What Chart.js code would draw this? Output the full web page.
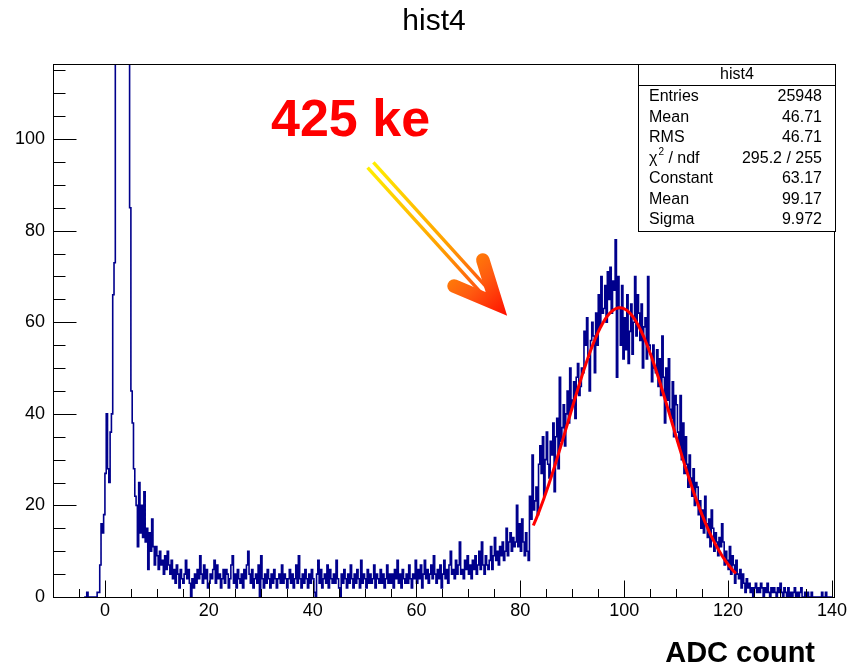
<!DOCTYPE html>
<html>
<head>
<meta charset="utf-8">
<title>hist4</title>
<script src="https://cdn.jsdelivr.net/npm/chart.js@4.4.0/dist/chart.umd.min.js"></script>
<style>
  html, body { margin: 0; padding: 0; background: #fff; }
</style>
</head>
<body>
<canvas id="hist" width="852" height="665"></canvas>
<script>
// ADC spectrum, bins of 0.25 counts, split into ranges
const binWidth = 0.25;

// -4 .. 10 : pedestal (clipped at the top of the frame)
const pedestalCounts = [
  0, 0, 1, 0,   0, 0, 0, 0,   0, 0, 1, 1,   7, 16, 14, 18,
  27, 40, 28, 25,   36, 40, 66, 73,   240, 470, 720, 910,
  980, 930, 800, 610,   420, 280, 170, 85,   45, 38, 28, 22,
  20, 11, 25, 14,   20, 13, 23, 12,   15, 6, 14, 10,   17, 11, 7, 11
];

// 10 .. 35
const plateauLowCounts = [
  9, 6, 10, 7,   8, 5, 9, 6,   10, 7, 5, 8,   4, 6, 3, 7,   5, 2, 6, 4,
  3, 5, 8, 4,   6, 3, 0, 4,   2, 5, 3, 6,   4, 9, 5, 3,   7, 4, 6, 2,
  3, 5, 4, 6,   8, 3, 7, 4,   5, 2, 4, 6,   3, 6, 5, 2,   4, 7, 9, 3,
  5, 2, 6, 4,   3, 5, 2, 6,   4, 7, 10, 5,   3, 6, 2, 4,   5, 3, 7, 0,
  9, 4, 2, 5,   3, 6, 4, 2,   5, 3, 6, 4,   2, 4, 5, 3,   7, 3, 5, 4
];

// 35 .. 60
const plateauHighCounts = [
  2, 4, 6, 3,   5, 2, 4, 7,   3, 9, 4, 2,   5, 3, 6, 4,   2, 5, 3, 6,
  4, 1, 0, 5,   8, 3, 6, 2,   4, 5, 3, 7,   2, 6, 4, 3,   5, 3, 8, 4,
  2, 0, 5, 3,   6, 4, 2, 5,   3, 7, 4, 2,   5, 3, 6, 4,   2, 8, 3, 5,
  4, 2, 6, 3,   5, 3, 4, 7,   2, 5, 4, 3,   6, 3, 5, 2,   4, 7, 3, 5,
  3, 5, 2, 6,   4, 8, 3, 5,   2, 6, 4, 3,   5, 3, 7, 4,   2, 5, 4, 8
];

// 60 .. 82 : onset of the signal
const riseCounts = [
  3, 6, 4, 7,   2, 5, 8, 4,   6, 3, 5, 7,   4, 9, 5, 3,   6, 4, 7, 2,
  5, 8, 4, 6,   3, 7, 10, 5,   6, 4, 8, 5,   7, 12, 5, 6,   4, 8, 6, 9,
  5, 7, 4, 8,   6, 9, 5, 7,   10, 6, 12, 7,   5, 9, 7, 6,   8, 11, 6, 9,
  13, 8, 10, 7,   11, 9, 12, 8,   10, 15, 9, 12,   14, 10, 13, 11,
  12, 20, 11, 16,   10, 17, 12, 9,   14, 10, 8, 22
];

// 82 .. 122 : signal peak
const signalCounts = [
  17, 31, 19, 21,   24, 18, 29, 33,   27, 35, 22, 30,   36, 29, 26, 34,
  31, 38, 23, 35,   39, 28, 48, 34,   37, 42, 33, 40,   45, 38, 50, 41,
  43, 47, 39, 48,   51, 44, 46, 50,   49, 58, 55, 61,   52, 45, 56, 60,
  57, 49, 62, 55,   66, 59, 70, 62,   63, 68, 60, 71,   65, 72, 62, 69,
  67, 78, 48, 70,   63, 55, 68, 52,   61, 54, 66, 51,   58, 64, 53, 60,
  70, 57, 66, 62,   56, 64, 50, 59,   61, 52, 70, 55,   53, 47, 55, 50,
  49, 54, 46, 52,   44, 57, 48, 38,   50, 43, 52, 41,   39, 47, 35, 44,
  42, 36, 33, 44,   30, 38, 27, 35,   29, 24, 31, 26,   22, 28, 20, 25,
  24, 18, 21, 15,   19, 14, 22, 16,   13, 17, 11, 19,   15, 10, 14, 12,
  9, 13, 11, 16,   12, 7, 10, 8,   6, 11, 5, 9,   7, 3, 8, 5
];

// 122 .. 140 : tail
const tailCounts = [
  4, 6, 2, 5,   3, 1, 4, 2,   3, 1, 2, 0,   2, 3, 1, 2,   1, 3, 2, 0,
  2, 1, 3, 1,   0, 2, 1, 2,   1, 0, 2, 1,   3, 1, 0, 2,   1, 0, 2, 0,
  1, 0, 1, 2,   0, 1, 0, 1,   2, 0, 0, 1,   0, 1, 0, 0,   1, 0, 0, 0,
  0, 0, 0, 0,   1, 0, 0, 1,   0, 0, 0, 0
];

const segments = [
  { start: -4, counts: pedestalCounts },
  { start: 10, counts: plateauLowCounts },
  { start: 35, counts: plateauHighCounts },
  { start: 60, counts: riseCounts },
  { start: 82, counts: signalCounts },
  { start: 122, counts: tailCounts }
];

// gaus fit result
const fitConstant = 63.17;
const fitMean = 99.17;
const fitSigma = 9.972;
const fitRange = [82.5, 121.5];

const xTickValues = [0, 20, 40, 60, 80, 100, 120, 140];
const yTickValues = [0, 20, 40, 60, 80, 100];

const statsEntries = 25948;
const statsMean = 46.71;
const statsRms = 46.71;
const statsChi2 = 295.2;
const statsNdf = 255;

// histogram outline points at the low edge of every bin
const histPoints = [];
segments.forEach(seg => {
    seg.counts.forEach((c, i) => histPoints.push({ x: seg.start + i * binWidth, y: c }));
});
histPoints.push({ x: 140, y: 0 });

const fitPoints = [];
for (let xv = fitRange[0]; xv <= fitRange[1] + 1e-9; xv += 0.25) {
    const z = (xv - fitMean) / fitSigma;
    fitPoints.push({ x: xv, y: fitConstant * Math.exp(-0.5 * z * z) });
}

const FONT = '"Liberation Sans", Arial, Helvetica, sans-serif';

function drawArrow(ctx, x0, y0, x1, y1) {
    const dx = x1 - x0, dy = y1 - y0;
    const len = Math.hypot(dx, dy);
    const ux = dx / len, uy = dy / len;
    const nx = -uy, ny = ux;

    const grad = ctx.createLinearGradient(x0, y0, x1, y1);
    grad.addColorStop(0, '#ffee00');
    grad.addColorStop(0.55, '#ff9d00');
    grad.addColorStop(0.8, '#ff5a10');
    grad.addColorStop(1, '#ff1000');

    ctx.save();
    ctx.strokeStyle = grad;

    // two parallel shaft lines
    const gap = 3.9;
    const shaftLen = len - 27;
    ctx.lineWidth = 3.4;
    ctx.lineCap = 'butt';
    [-1, 1].forEach(s => {
        ctx.beginPath();
        ctx.moveTo(x0 + nx * gap * s, y0 + ny * gap * s);
        ctx.lineTo(x0 + ux * shaftLen + nx * gap * s, y0 + uy * shaftLen + ny * gap * s);
        ctx.stroke();
    });

    // chevron head
    const vx = x1 - ux * 15, vy = y1 - uy * 15;
    const wing = 46, ang = 25 * Math.PI / 180;
    const bx = -ux * Math.cos(ang) * wing, by = -uy * Math.cos(ang) * wing;
    const sx = nx * Math.sin(ang) * wing, sy = ny * Math.sin(ang) * wing;
    ctx.lineWidth = 13.5;
    ctx.lineCap = 'round';
    ctx.lineJoin = 'miter';
    ctx.beginPath();
    ctx.moveTo(vx + bx + sx, vy + by + sy);
    ctx.lineTo(vx, vy);
    ctx.lineTo(vx + bx - sx, vy + by - sy);
    ctx.stroke();
    ctx.restore();
}

const rootStyle = {
    id: 'rootStyle',
    afterDraw(chart) {
        const { ctx, chartArea: a } = chart;
        const xs = chart.scales.x, ys = chart.scales.y;
        ctx.save();

        // frame
        ctx.strokeStyle = '#000';
        ctx.lineWidth = 1;
        const L = Math.round(a.left) + 0.5, R = Math.round(a.right) + 0.5;
        const T = Math.round(a.top) + 0.5, B = Math.round(a.bottom) + 0.5;
        ctx.strokeRect(L, T, R - L, B - T);

        // inward tick marks
        ctx.beginPath();
        for (let v = Math.ceil(xs.min / 5) * 5; v <= xs.max; v += 5) {
            const px = Math.round(xs.getPixelForValue(v)) + 0.5;
            const len = v % 20 === 0 ? 17 : 8.5;
            ctx.moveTo(px, B);
            ctx.lineTo(px, B - len);
        }
        for (let v = 0; v <= ys.max; v += 5) {
            const py = Math.round(ys.getPixelForValue(v)) + 0.5;
            const len = v % 20 === 0 ? 23 : 12;
            ctx.moveTo(L, py);
            ctx.lineTo(L + len, py);
        }
        ctx.stroke();

        // statistics box
        const bx = 638.5, by = 64.5, bw = 197, bh = 167;
        ctx.fillStyle = '#fff';
        ctx.fillRect(bx, by, bw, bh);
        ctx.strokeRect(bx, by, bw, bh);
        ctx.beginPath();
        ctx.moveTo(bx, 85.5);
        ctx.lineTo(bx + bw, 85.5);
        ctx.stroke();

        ctx.fillStyle = '#000';
        ctx.textBaseline = 'middle';
        ctx.font = '16px ' + FONT;
        ctx.textAlign = 'center';
        ctx.fillText('hist4', bx + bw / 2, 75);

        const rows = [
            ['Entries', String(statsEntries)],
            ['Mean', statsMean.toFixed(2)],
            ['RMS', statsRms.toFixed(2)],
            ['chi2', statsChi2.toFixed(1) + ' / ' + statsNdf],
            ['Constant', fitConstant.toFixed(2)],
            ['Mean', fitMean.toFixed(2)],
            ['Sigma', fitSigma.toFixed(3)]
        ];
        rows.forEach((r, i) => {
            const ry = 97 + i * 20.5;
            ctx.textAlign = 'left';
            if (r[0] === 'chi2') {
                ctx.font = '16px ' + FONT;
                ctx.fillText('\u03c7', 649, ry);
                const w = ctx.measureText('\u03c7').width;
                ctx.font = '10px ' + FONT;
                ctx.fillText('2', 649 + w + 1, ry - 6);
                const w2 = ctx.measureText('2').width;
                ctx.font = '16px ' + FONT;
                ctx.fillText(' / ndf', 649 + w + w2 + 1, ry);
            } else {
                ctx.fillText(r[0], 649, ry);
            }
            ctx.textAlign = 'right';
            ctx.fillText(r[1], 822, ry);
        });

        // pad title
        ctx.textAlign = 'center';
        ctx.textBaseline = 'alphabetic';
        ctx.font = '30px ' + FONT;
        ctx.fillText('hist4', 434, 30);

        // annotation
        ctx.fillStyle = '#ff0000';
        ctx.textAlign = 'left';
        ctx.font = 'bold 52px ' + FONT;
        ctx.fillText('425 ke', 271, 136);

        drawArrow(ctx, 370.5, 165, 506.5, 315);

        // x axis title
        ctx.fillStyle = '#000';
        ctx.textAlign = 'right';
        ctx.font = 'bold 29px ' + FONT;
        ctx.fillText('ADC count', 815, 662);

        ctx.restore();
    }
};

new Chart(document.getElementById('hist'), {
    type: 'line',
    data: {
        datasets: [
            {
                label: 'gaus',
                data: fitPoints,
                borderColor: '#ff0000',
                borderWidth: 3,
                pointRadius: 0,
                tension: 0,
                fill: false
            },
            {
                label: 'hist4',
                data: histPoints,
                borderColor: '#00008c',
                borderWidth: 1.6,
                pointRadius: 0,
                stepped: 'before',
                fill: false
            }
        ]
    },
    options: {
        responsive: false,
        animation: false,
        devicePixelRatio: 1,
        layout: { padding: { left: 0, right: 18, top: 64, bottom: 0 } },
        plugins: {
            legend: { display: false },
            tooltip: { enabled: false },
            title: { display: false }
        },
        scales: {
            x: {
                type: 'linear',
                min: -10,
                max: 140.4,
                grid: { display: false, drawTicks: false },
                border: { display: false },
                afterBuildTicks: s => { s.ticks = xTickValues.map(v => ({ value: v })); },
                afterFit: s => { s.height = 68; },
                ticks: {
                    color: '#000',
                    font: { family: FONT, size: 18 },
                    padding: 3,
                    maxRotation: 0,
                    autoSkip: false
                }
            },
            y: {
                type: 'linear',
                min: 0,
                max: 116.4,
                grid: { display: false, drawTicks: false },
                border: { display: false },
                afterBuildTicks: s => { s.ticks = yTickValues.map(v => ({ value: v })); },
                afterFit: s => { s.width = 53; },
                ticks: {
                    color: '#000',
                    font: { family: FONT, size: 18 },
                    padding: 8
                }
            }
        }
    },
    plugins: [rootStyle]
});
</script>
</body>
</html>
